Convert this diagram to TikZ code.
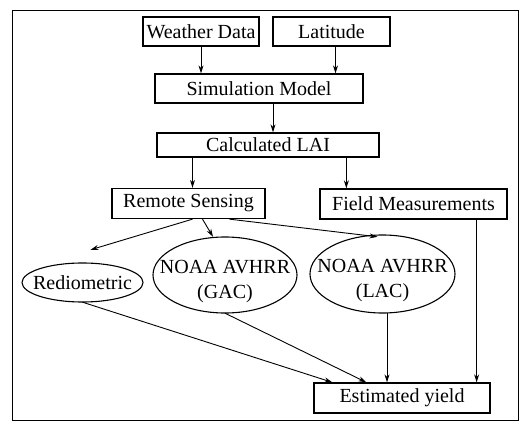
\documentclass[tikz,border=0pt]{standalone}
\usepackage{fontspec}
\setmainfont{Liberation Serif}
\usetikzlibrary{arrows.meta}
\tikzset{
  box/.style = {draw, line width=1.3pt, inner sep=0pt, minimum height=29pt},
  oval/.style = {inner sep=0pt, align=center},
  ovalline/.style = {line width=1.1pt},
  arr/.style = {line width=0.9pt, -{Stealth[length=8pt,width=5pt]}},
}
\newcommand{\twolines}[2]{\raisebox{-11.5pt}[0pt][0pt]{\renewcommand{\arraystretch}{1.09}%
  \begin{tabular}{@{}c@{}}#1\\#2\end{tabular}}}

\begin{document}
\begin{tikzpicture}[x=1pt,y=-1pt,font=\fontsize{20}{23}\selectfont]
\useasboundingbox (0,0) rectangle (530,425);
\draw[line width=0.8pt] (12,10) rectangle (518,420);

\node[box,minimum width=116pt] (wd) at (201,31.5) {Weather Data};
\node[box,minimum width=117pt] (lat) at (331.5,31.5) {Latitude};
\node[box,minimum width=208pt] (sim) at (259,88.5) {Simulation Model};
\node[box,minimum width=222pt,minimum height=24pt] (lai) at (268,145) {Calculated LAI};
\node[box,minimum width=153pt,minimum height=30pt] (rs) at (188.5,203.5) {Remote Sensing};
\node[box,minimum width=187pt,minimum height=30pt] (fm) at (413.5,204) {Field Measurements};
\node[oval,minimum width=121pt,minimum height=39pt] (rad) at (82.5,282.5) {Rediometric};
\node[oval,minimum width=144pt,minimum height=76pt] (gac) at (225,275) {\twolines{NOAA AVHRR}{(GAC)}};
\node[oval,minimum width=145pt,minimum height=78pt] (lac) at (382.5,274) {\twolines{NOAA AVHRR}{(LAC)}};
\node[box,minimum width=176pt,minimum height=30pt] (est) at (402,398) {Estimated yield};

\draw[ovalline] (rad.center) ellipse [x radius=60.5, y radius=19.5];
\draw[ovalline] (gac.center) ellipse [x radius=72, y radius=38];
\draw[ovalline] (lac.center) ellipse [x radius=72.5, y radius=39];

\coordinate (radin) at ([xshift=8pt,yshift=13pt]rad.north);

\draw[arr] (wd.south) -- (wd.south |- sim.north);
\draw[arr] ([xshift=4pt]lat.south) -- ([xshift=4pt]lat.south |- sim.north);
\draw[arr] ([xshift=14pt]sim.south) -- ([xshift=14pt]sim.south |- lai.north);
\draw[arr] ([xshift=4pt]rs.north |- lai.south) -- ([xshift=4pt]rs.north);
\draw[arr] ([xshift=27pt]fm.north west |- lai.south) -- ([xshift=27pt]fm.north west);
\draw[arr] ([xshift=4pt]rs.south) -- (radin);
\draw[arr] ([xshift=14pt]rs.south) -- ([xshift=-12pt]gac.north);
\draw[arr] ([xshift=41pt]rs.south) -- ([xshift=-5pt,yshift=-2pt]lac.north);
\draw[arr] (rad.south) -- ([xshift=19pt]est.north west);
\draw[arr] (gac.south) -- ([xshift=53pt]est.north west);
\draw[arr] ([xshift=4.5pt]lac.south) -- ([xshift=4.5pt]lac.south |- est.north);
\draw[arr] ([xshift=-31pt]fm.south east) -- ([xshift=-31pt]fm.south east |- est.north);
\end{tikzpicture}
\end{document}
